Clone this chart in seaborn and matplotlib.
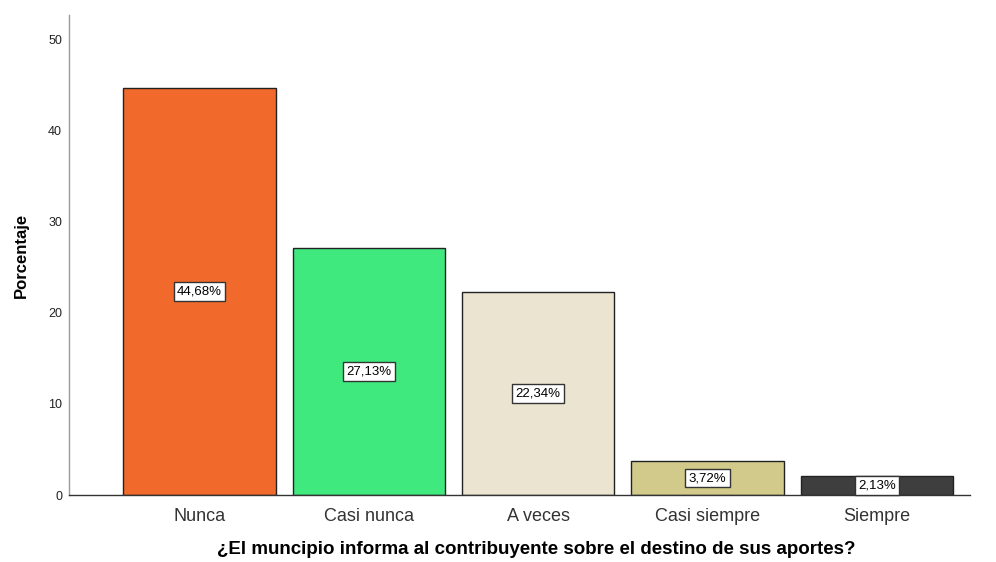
import matplotlib
matplotlib.use("Agg")
import matplotlib.pyplot as plt
import seaborn as sns
import pandas as pd

categories = ["Nunca", "Casi nunca", "A veces", "Casi siempre", "Siempre"]
values = [44.68, 27.13, 22.34, 3.72, 2.13]
labels = ["44,68%", "27,13%", "22,34%", "3,72%", "2,13%"]
colors = ["#F26A2B", "#3FE97E", "#EAE4D0", "#D2CA8B", "#3E3E3E"]
yticks = [0, 10, 20, 30, 40, 50]

sns.set_theme(style="white")
plt.rcParams['font.family'] = ['Liberation Sans', 'DejaVu Sans']

df = pd.DataFrame({"cat": categories, "val": values})

fig = plt.figure(figsize=(9.96, 5.62), dpi=100)
ax = fig.add_axes([0.0693, 0.1192, 0.9047, 0.8538])
sns.barplot(data=df, x="cat", y="val", hue="cat", palette=colors, legend=False,
            width=0.9, edgecolor="#222222", linewidth=1.0, ax=ax, saturation=1)

for i, (v, lab) in enumerate(zip(values, labels)):
    ax.text(i, v / 2, lab, ha="center", va="center", fontsize=9.5, color="black",
            bbox=dict(boxstyle="square,pad=0.25", facecolor="white", edgecolor="#333333", linewidth=1))

ax.set_xlim(-0.77, 4.55)
ax.set_ylim(0, 52.7)
ax.set_yticks(yticks)
ax.set_yticklabels([str(t) for t in yticks], fontsize=9, color="#222222")
ax.tick_params(axis="x", labelsize=13, colors="#333333", length=0, pad=9)
ax.tick_params(axis="y", length=0, pad=5)
ax.set_xlabel("¿El muncipio informa al contribuyente sobre el destino de sus aportes?",
              fontsize=13.5, fontweight="bold", color="black")
ax.xaxis.set_label_coords(0.518, -0.095)
ax.set_ylabel("Porcentaje", fontsize=12, fontweight="bold", labelpad=14, color="black")
for s in ["top", "right"]:
    ax.spines[s].set_visible(False)
for s in ["left", "bottom"]:
    ax.spines[s].set_visible(True)
ax.spines["left"].set_color("#999999")
ax.spines["bottom"].set_color("#333333")
ax.spines["left"].set_linewidth(1)
ax.spines["bottom"].set_linewidth(1)

fig.savefig("out.png", dpi=100)
